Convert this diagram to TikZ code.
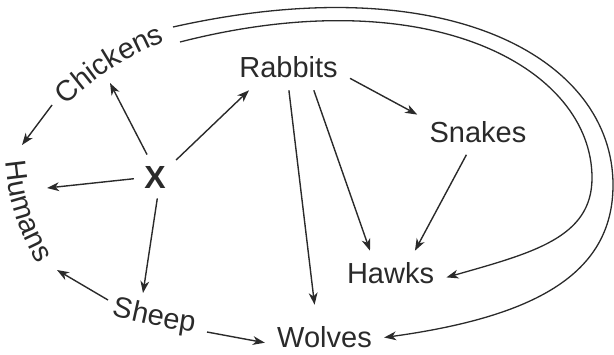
\documentclass[tikz,border=0pt]{standalone}
\usepackage{fontspec}
\setmainfont{Liberation Sans}
\usetikzlibrary{arrows.meta,decorations.text}
\definecolor{cInk}{HTML}{2A2A2A}
\newcommand{\spfont}{\fontsize{14.5}{17}\selectfont}
\tikzset{
  animal/.style={inner sep=6pt, font=\spfont, text=cInk,
                 text height=10.4pt, text depth=0pt},
  feeds/.style={-{Stealth[length=6pt, width=4.4pt, inset=1.8pt]},
                line width=0.7pt, cInk},
  roundabout/.style={feeds, line width=0.65pt},
  curvedlbl/.style={decorate, decoration={text along path, text align=center,
                    text={|\spfont\color{cInk}|#1}}},
}

\begin{document}
\begin{tikzpicture}[x=0.5pt, y=0.5pt]
  \useasboundingbox (0,0) rectangle (614,354);
  % animals in the middle
  \foreach \nm/\px/\py in {Rabbits/288.5/286.5, Snakes/478/222,
                           Hawks/390.5/80.5, Wolves/324.5/16.5}
    \node[animal] (\nm) at (\px,\py) {\nm};
  \node[animal, inner sep=5pt, text height=11.5pt,
        font=\fontsize{16}{18}\selectfont\bfseries] (X) at (155,177.5) {X};
  % labels bent round the rim
  \path[curvedlbl=Chickens] (57,241) to[bend left=11] (176,317);
  \path[curvedlbl=Humans] (4,210) to[bend right=15] (47,75);
  \path[curvedlbl=Sheep] (102,40.6) to[bend right=3] (204,20.2);
  % where arrows meet the rim labels
  \coordinate (chk-x) at (110,271);
  \coordinate (chk-h) at (52,249);
  \coordinate (chk-a) at (180,312);
  \coordinate (chk-b) at (173,327);
  \coordinate (hum-c) at (22,209);
  \coordinate (hum-x) at (47,166);
  \coordinate (hum-s) at (57,84);
  \coordinate (shp-x) at (143,61);
  \coordinate (shp-h) at (108,54);
  \coordinate (shp-w) at (207,22);
  % who eats whom
  \foreach \a/\b in {X.110/chk-x, X.38/Rabbits.-150, chk-h/hum-c,
                     X.-174/hum-x, X.-84/shp-x, shp-h/hum-s,
                     shp-w/Wolves.-175, Rabbits.-42/Hawks.132,
                     Rabbits.-10/Snakes.164, Snakes.-117/Hawks.43}
    \draw[feeds] (\a) -- (\b);
  \draw[feeds, shorten >=5pt] (Rabbits.-89) -- (Wolves.111);
  % long way round
  \draw[roundabout] (chk-b) .. controls (450,389) and (613,294) .. (613,169)
    .. controls (613,79) and (533,37) .. (Wolves.0);
  \draw[roundabout] (chk-a) .. controls (430,376) and (592,286) .. (592,176)
    .. controls (592,116) and (532,101) .. (Hawks.-4);
\end{tikzpicture}
\end{document}
